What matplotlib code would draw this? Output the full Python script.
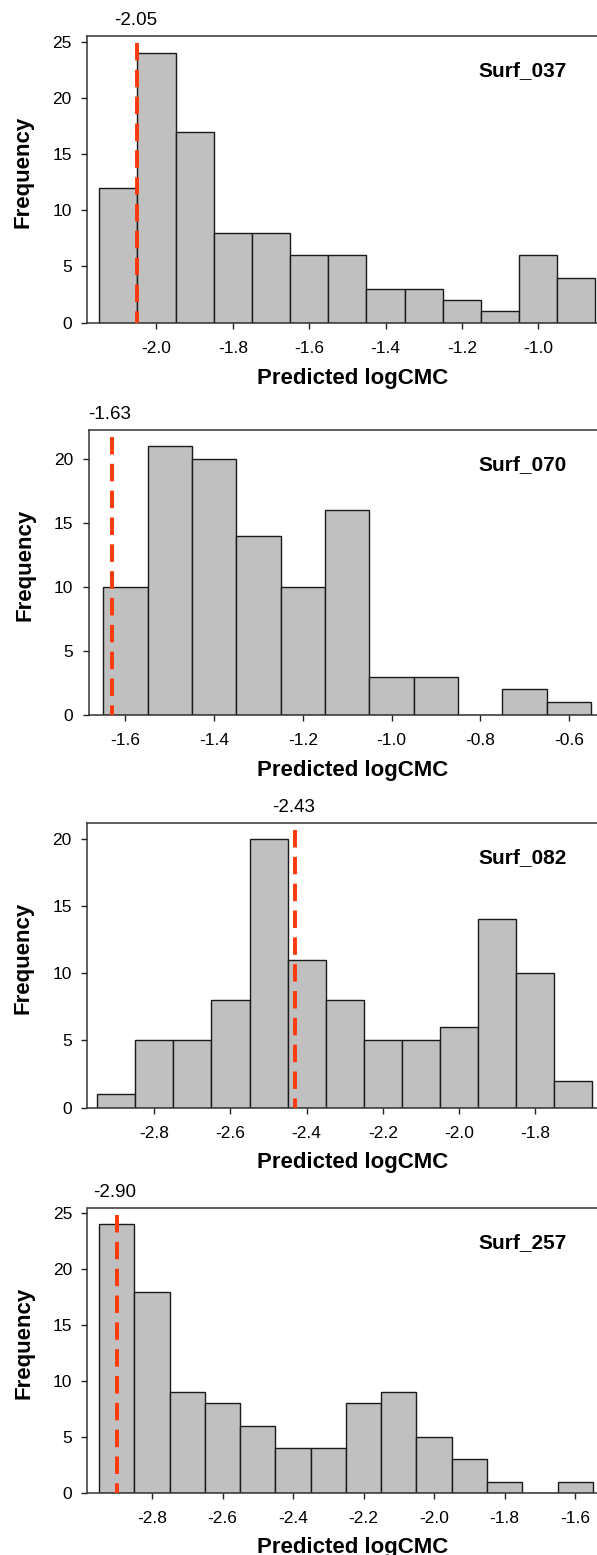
import matplotlib
matplotlib.use("Agg")
import matplotlib.pyplot as plt
from matplotlib.ticker import MultipleLocator, FormatStrFormatter

plt.rcParams['font.family'] = ['Liberation Sans', 'DejaVu Sans']
plt.rcParams['axes.unicode_minus'] = False

# histogram of predicted logCMC per surfactant (bin width 0.1)
names = ["Surf_037", "Surf_070", "Surf_082", "Surf_257"]
cutoffs = [-2.05, -1.63, -2.43, -2.90]

centers_037 = [-2.1, -2.0, -1.9, -1.8, -1.7, -1.6, -1.5, -1.4, -1.3, -1.2, -1.1, -1.0, -0.9]
counts_037 = [12, 24, 17, 8, 8, 6, 6, 3, 3, 2, 1, 6, 4]

centers_070 = [-1.6, -1.5, -1.4, -1.3, -1.2, -1.1, -1.0, -0.9, -0.8, -0.7, -0.6]
counts_070 = [10, 21, 20, 14, 10, 16, 3, 3, 0, 2, 1]

centers_082 = [-2.9, -2.8, -2.7, -2.6, -2.5, -2.4, -2.3, -2.2, -2.1, -2.0, -1.9, -1.8, -1.7]
counts_082 = [1, 5, 5, 8, 20, 11, 8, 5, 5, 6, 14, 10, 2]

centers_257 = [-2.9, -2.8, -2.7, -2.6, -2.5, -2.4, -2.3, -2.2, -2.1, -2.0, -1.9, -1.8, -1.7, -1.6]
counts_257 = [24, 18, 9, 8, 6, 4, 4, 8, 9, 5, 3, 1, 0, 1]

all_centers = [centers_037, centers_070, centers_082, centers_257]
all_counts = [counts_037, counts_070, counts_082, counts_257]

xlims = [(-2.182, -0.846), (-1.683, -0.537), (-2.977, -1.637), (-2.983, -1.538)]
ytops = [25.5, 22.27, 21.2, 25.5]

# panel boxes in pixels: left, top, bottom
W, H = 597, 1555
boxes = [(87, 36, 322.7), (88.5, 430, 715), (87, 822.7, 1107.7), (87.5, 1207.7, 1492.7)]

fig = plt.figure(figsize=(W / 100, H / 100), dpi=100)

for i in range(4):
    left, top, bot = boxes[i]
    ax = fig.add_axes([left / W, (H - bot) / H, (W - left) / W, (bot - top) / H])

    ax.bar(all_centers[i], all_counts[i], width=0.1, color='#c0c0c0',
           edgecolor='#1a1a1a', linewidth=1.0, zorder=2)

    # cutoff line drawn from the top down
    c = cutoffs[i]
    ax.plot([c, c], [0.975, 0], transform=ax.get_xaxis_transform(),
            color='#ff3a0a', lw=2.8, dashes=(4.5, 2.4), zorder=3, clip_on=False)
    ax.annotate("%.2f" % c, xy=(c, 1), xycoords=('data', 'axes fraction'),
                xytext=(-1.5, 5), textcoords='offset points',
                ha='center', va='bottom', fontsize=13.5)

    ax.text((567 - left) / (W - left), 1 - 35 / (bot - top), names[i],
            transform=ax.transAxes, ha='right', va='center',
            fontsize=15, fontweight='bold')

    ax.set_xlim(*xlims[i])
    ax.set_ylim(0, ytops[i])
    ax.xaxis.set_major_locator(MultipleLocator(0.2))
    ax.xaxis.set_major_formatter(FormatStrFormatter('%.1f'))
    ax.yaxis.set_major_locator(MultipleLocator(5))

    ax.spines['right'].set_visible(False)
    for s in ['left', 'top', 'bottom']:
        ax.spines[s].set_color('#333333')
        ax.spines[s].set_linewidth(1.1)
    ax.tick_params(length=4.5, width=1.0, color='#222222', labelsize=12.5)
    ax.tick_params(axis='x', pad=8.5)
    ax.tick_params(axis='y', pad=6.5)

    ax.set_xlabel('Predicted logCMC', fontsize=16, fontweight='bold')
    ax.set_ylabel('Frequency', fontsize=16, fontweight='bold')
    ax.xaxis.set_label_coords(0.52, -0.157)
    ax.yaxis.set_label_coords(-0.104, 0.526)

fig.savefig('out.png', dpi=100)
